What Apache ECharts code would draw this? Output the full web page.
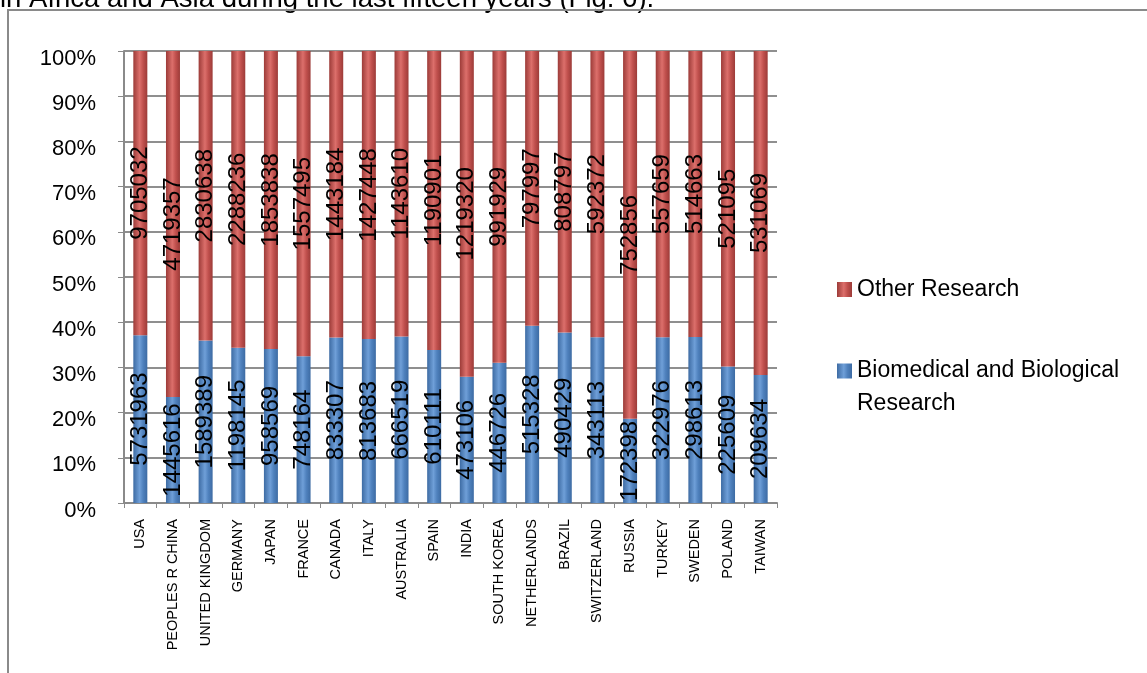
<!DOCTYPE html>
<html><head><meta charset="utf-8">
<script src="https://cdn.jsdelivr.net/npm/echarts@6/dist/echarts.min.js"></script>
<style>html,body{margin:0;padding:0;background:#fff}#c{width:1147px;height:673px}</style>
</head><body><div id="c"></div>
<script>
const categories = ['USA','PEOPLES R CHINA','UNITED KINGDOM','GERMANY','JAPAN','FRANCE','CANADA','ITALY','AUSTRALIA','SPAIN','INDIA','SOUTH KOREA','NETHERLANDS','BRAZIL','SWITZERLAND','RUSSIA','TURKEY','SWEDEN','POLAND','TAIWAN'];
const biomedical = [5731963,1445616,1589389,1198145,958569,748164,833307,813683,666519,610111,473106,446726,515328,490429,343113,172398,322976,298613,225609,209634];
const other = [9705032,4719357,2830638,2288236,1853838,1557495,1443184,1427448,1143610,1190901,1219320,991929,797997,808797,592372,752856,557659,514663,521095,531069];
const yTicks = [0,10,20,30,40,50,60,70,80,90,100];

const bioPct = biomedical.map((v,i)=> v/(v+other[i])*100);
const otherPct = other.map((v,i)=> v/(v+biomedical[i])*100);

function cyl(dark, mid, light){
  return new echarts.graphic.LinearGradient(0,0,1,0,[
    {offset:0,color:dark},{offset:0.45,color:light},{offset:0.7,color:mid},{offset:1,color:dark}]);
}
const chart = echarts.init(document.getElementById('c'), null, {renderer:'canvas'});
const labelFont = {fontFamily:'Liberation Sans', fontSize:24, color:'#000'};
chart.setOption({
  animation:false,
  graphic:[
    {type:'text', left:0, top:-15, style:{text:'in Africa and Asia during the last fifteen years (Fig. 6).', fontFamily:'Liberation Sans', fontSize:27.5, fill:'#000'}},
    {type:'rect', shape:{x:8,y:10,width:1160,height:700}, style:{fill:'none', stroke:'#8a8a8a', lineWidth:2}}
  ],
  grid:{left:124, right:370, top:51, bottom:170},
  legend:[
    {data:['Other Research'], left:837, top:278, padding:0, orient:'vertical', icon:'rect', itemWidth:15, itemHeight:15,
      textStyle:{fontFamily:'Liberation Sans', fontSize:23, color:'#000'}},
    {data:['Biomedical and Biological Research'], left:837, top:359, padding:0, orient:'vertical', icon:'rect', itemWidth:15, itemHeight:15,
      formatter:()=> '{a|Biomedical and Biological}\n{b|Research}',
      textStyle:{fontFamily:'Liberation Sans', fontSize:23, color:'#000',
        rich:{a:{fontFamily:'Liberation Sans', fontSize:23, lineHeight:66}, b:{fontFamily:'Liberation Sans', fontSize:23, lineHeight:1}}}}
  ],
  xAxis:{type:'category', data:categories,
    axisLine:{show:true, lineStyle:{color:'#8a8a8a', width:2}},
    axisTick:{show:true, length:5, lineStyle:{color:'#8a8a8a'}},
    axisLabel:{rotate:90, fontFamily:'Liberation Sans', fontSize:14.5, color:'#000', margin:16, interval:0}},
  yAxis:{type:'value', min:0, max:100, interval:10,
    axisLine:{show:true, lineStyle:{color:'#8a8a8a', width:2}},
    axisTick:{show:true, length:6, lineStyle:{color:'#8a8a8a'}},
    splitLine:{show:true, lineStyle:{color:'#8f8f8f', width:2}},
    axisLabel:{formatter:v=> yTicks.includes(v)? v+'%':'', fontFamily:'Liberation Sans', fontSize:22, color:'#000', margin:28, verticalAlign:'top', lineHeight:15}},
  series:[
    {name:'Biomedical and Biological Research', type:'bar', stack:'s', data:bioPct, barWidth:14,
      itemStyle:{color:cyl('#3d6ba3','#4F81BD','#6f9fd8')},
      label:{show:true, position:'inside', rotate:90, formatter:p=> String(biomedical[p.dataIndex]), ...labelFont}},
    {name:'Other Research', type:'bar', stack:'s', data:otherPct, barWidth:14,
      itemStyle:{color:cyl('#9c3b38','#C0504D','#dc6f6b')},
      label:{show:true, position:'inside', rotate:90, formatter:p=> String(other[p.dataIndex]), ...labelFont}}
  ]
});
</script></body></html>
